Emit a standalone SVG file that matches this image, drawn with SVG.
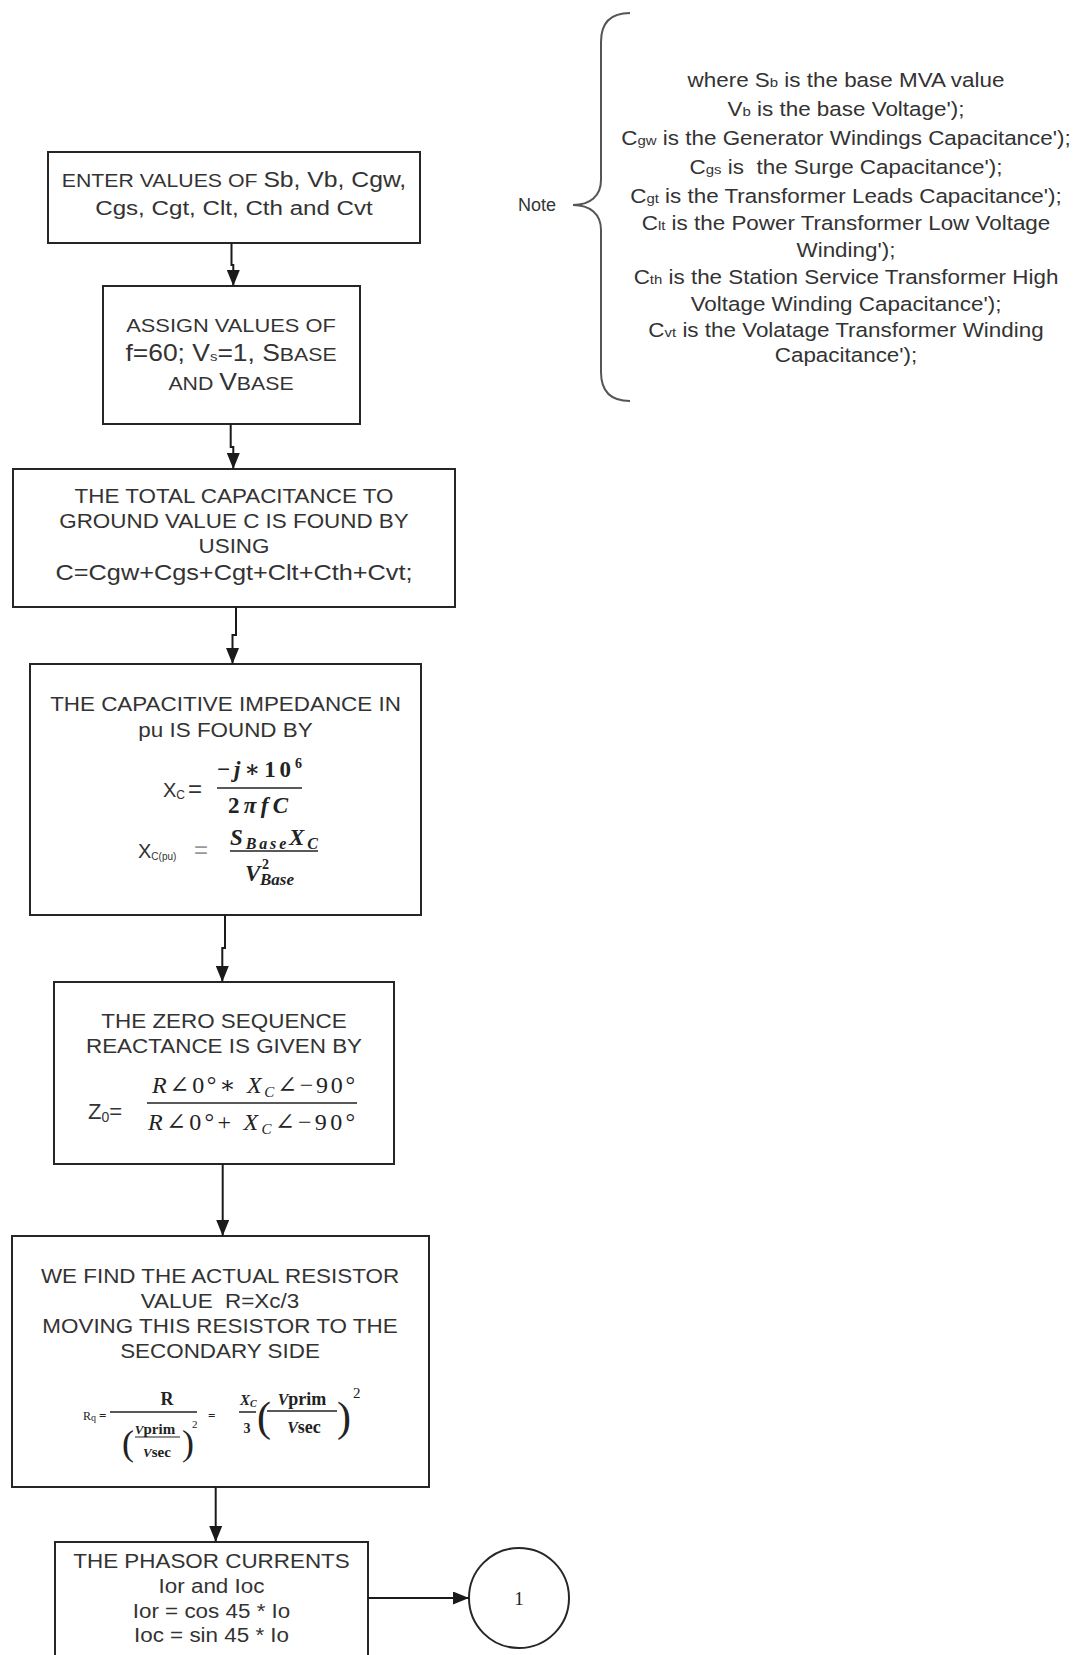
<svg xmlns="http://www.w3.org/2000/svg" width="1081" height="1655" viewBox="0 0 1081 1655">
  <defs>
    <marker id="ah" markerUnits="userSpaceOnUse" markerWidth="16" markerHeight="13" refX="16" refY="6.5" orient="auto">
      <path d="M0,0 L16,6.5 L0,13 Z" fill="#1a1a1a"/>
    </marker>
    <style>
      .box { fill: #fff; stroke: #262626; stroke-width: 2; }
      .t { font-family: "Liberation Sans", Arial, sans-serif; font-size: 19.5px; fill: #333; text-anchor: middle; white-space: pre; }
      .sc { font-size: 18.5px; }
      .big { font-size: 23px; }
      .sub { font-size: 13px; }
      .m { font-family: "Liberation Serif", "DejaVu Serif", serif; fill: #222; }
      .mb { font-family: "Liberation Serif", "DejaVu Serif", serif; fill: #222; font-weight: bold; }
      .i { font-style: italic; }
      .fl { stroke: #222; stroke-width: 1.5; }
      .conn path { fill: none; stroke: #1a1a1a; stroke-width: 2; marker-end: url(#ah); }
      .brace { fill: none; stroke: #555; stroke-width: 2; }
    </style>
  </defs>

  <rect width="1081" height="1655" fill="#fff"/>

  <!-- annotation: brace with variable definitions -->
  <g id="note">
    <path class="brace" d="M630,13 C612,13 601,22 601,42 V180 C601,196 590,205 573,205 C590,205 601,214 601,230 V372 C601,392 612,401 630,401"/>
    <text class="t" x="537" y="211" style="font-size:18px">Note</text>
    <g transform="translate(846,0) scale(1.15,1)">
      <text class="t" x="0" y="87">where S<tspan class="sub">b</tspan> is the base MVA value</text>
      <text class="t" x="0" y="116">V<tspan class="sub">b</tspan> is the base Voltage');</text>
      <text class="t" x="0" y="145">C<tspan class="sub">gw</tspan> is the Generator Windings Capacitance');</text>
      <text class="t" x="0" y="174">C<tspan class="sub">gs</tspan> is  the Surge Capacitance');</text>
      <text class="t" x="0" y="203">C<tspan class="sub">gt</tspan> is the Transformer Leads Capacitance');</text>
      <text class="t" x="0" y="230">C<tspan class="sub">lt</tspan> is the Power Transformer Low Voltage</text>
      <text class="t" x="0" y="257">Winding');</text>
      <text class="t" x="0" y="284">C<tspan class="sub">th</tspan> is the Station Service Transformer High</text>
      <text class="t" x="0" y="311">Voltage Winding Capacitance');</text>
      <text class="t" x="0" y="337">C<tspan class="sub">vt</tspan> is the Volatage Transformer Winding</text>
      <text class="t" x="0" y="362">Capacitance');</text>
    </g>
  </g>

  <!-- 1: inputs -->
  <g id="enter-values">
    <rect class="box" x="48" y="152" width="372" height="91"/>
    <g transform="translate(234,0) scale(1.15,1)">
      <text class="t" x="0" y="187"><tspan class="sc">ENTER VALUES OF </tspan><tspan style="font-size:21.5px">Sb, Vb, Cgw,</tspan></text>
      <text class="t" x="0" y="215" style="font-size:21px">Cgs, Cgt, Clt, Cth and Cvt</text>
    </g>
  </g>

  <!-- 2: constants -->
  <g id="assign-values">
    <rect class="box" x="103" y="286" width="257" height="138"/>
    <g transform="translate(231,0) scale(1.15,1)">
      <text class="t" x="0" y="332" style="font-size:19px">ASSIGN VALUES OF</text>
      <text class="t" x="0" y="361"><tspan class="big">f=60; V</tspan><tspan class="sub">s</tspan><tspan class="big">=1, S</tspan><tspan class="sc">BASE</tspan></text>
      <text class="t" x="0" y="390"><tspan class="sc">AND </tspan><tspan class="big">V</tspan><tspan class="sc">BASE</tspan></text>
    </g>
  </g>

  <!-- 3: total capacitance -->
  <g id="total-capacitance">
    <rect class="box" x="13" y="469" width="442" height="138"/>
    <g transform="translate(234,0) scale(1.15,1)">
      <text class="t" x="0" y="503">THE TOTAL CAPACITANCE TO</text>
      <text class="t" x="0" y="528">GROUND VALUE C IS FOUND BY</text>
      <text class="t" x="0" y="553">USING</text>
      <text class="t" x="0" y="580" style="font-size:22px">C=Cgw+Cgs+Cgt+Clt+Cth+Cvt;</text>
    </g>
  </g>

  <!-- 4: capacitive impedance -->
  <g id="capacitive-impedance">
    <rect class="box" x="30" y="664" width="391" height="251"/>
    <g transform="translate(225.5,0) scale(1.15,1)">
      <text class="t" x="0" y="711">THE CAPACITIVE IMPEDANCE IN</text>
      <text class="t" x="0" y="737">pu IS FOUND BY</text>
    </g>
    <text class="t" x="163" y="797" style="text-anchor:start;font-size:20px">X<tspan style="font-size:12px" dy="2">C</tspan><tspan style="font-size:24px" dx="3" dy="-2">=</tspan></text>
    <text class="mb" x="217" y="777" style="font-size:23px" textLength="85" lengthAdjust="spacing">−<tspan class="i">j</tspan>∗10<tspan style="font-size:14px" dy="-9">6</tspan></text>
    <line class="fl" x1="217" y1="788" x2="302" y2="788"/>
    <text class="mb" x="228" y="813" style="font-size:23px" textLength="60" lengthAdjust="spacing">2<tspan class="i">πfC</tspan></text>
    <text class="t" x="138" y="858" style="text-anchor:start;font-size:20px">X<tspan style="font-size:10px" dy="2">C(pu)</tspan></text>
    <text class="t" x="194" y="858" style="text-anchor:start;font-size:24px;fill:#999">=</text>
    <text class="mb i" x="230" y="845" style="font-size:23px" textLength="88" lengthAdjust="spacing">S<tspan style="font-size:16px" dy="4">Base</tspan><tspan dy="-4">X</tspan><tspan style="font-size:16px" dy="4">C</tspan></text>
    <line class="fl" x1="230" y1="851" x2="318" y2="851"/>
    <text class="mb i" x="245" y="881" style="font-size:23px">V</text>
    <text class="mb" x="262" y="869" style="font-size:14px">2</text>
    <text class="mb i" x="260" y="885" style="font-size:17px">Base</text>
  </g>

  <!-- 5: zero sequence reactance -->
  <g id="zero-sequence">
    <rect class="box" x="54" y="982" width="340" height="182"/>
    <g transform="translate(224,0) scale(1.15,1)">
      <text class="t" x="0" y="1028">THE ZERO SEQUENCE</text>
      <text class="t" x="0" y="1053">REACTANCE IS GIVEN BY</text>
    </g>
    <text class="t" x="88" y="1119" style="text-anchor:start;font-size:22px">Z<tspan style="font-size:14px" dy="3">0</tspan><tspan dy="-3">=</tspan></text>
    <text class="m" x="152" y="1093" style="font-size:24px" textLength="203" lengthAdjust="spacing"><tspan class="i">R</tspan>∠0°∗ <tspan class="i">X</tspan><tspan class="i" style="font-size:15px" dy="4">C</tspan><tspan dy="-4">∠−90°</tspan></text>
    <line class="fl" x1="147" y1="1103" x2="357" y2="1103"/>
    <text class="m" x="148" y="1130" style="font-size:24px" textLength="207" lengthAdjust="spacing"><tspan class="i">R</tspan>∠0°+ <tspan class="i">X</tspan><tspan class="i" style="font-size:15px" dy="4">C</tspan><tspan dy="-4">∠−90°</tspan></text>
  </g>

  <!-- 6: resistor value referred to secondary -->
  <g id="actual-resistor">
    <rect class="box" x="12" y="1236" width="417" height="251"/>
    <g transform="translate(220,0) scale(1.15,1)">
      <text class="t" x="0" y="1283">WE FIND THE ACTUAL RESISTOR</text>
      <text class="t" x="0" y="1308">VALUE  R=Xc/3</text>
      <text class="t" x="0" y="1333">MOVING THIS RESISTOR TO THE</text>
      <text class="t" x="0" y="1358">SECONDARY SIDE</text>
    </g>
    <text class="m" x="83" y="1420" style="font-size:12px">R<tspan style="font-size:10px" dy="1">q</tspan></text>
    <text class="mb" x="99" y="1420" style="font-size:13px">=</text>
    <text class="mb" x="167" y="1405" style="font-size:18px;text-anchor:middle">R</text>
    <line class="fl" x1="110" y1="1412" x2="197" y2="1412"/>
    <text class="m" x="122" y="1455" style="font-size:36px">(</text>
    <text class="mb" x="155" y="1434" style="font-size:15px;text-anchor:middle"><tspan class="i" style="font-size:13px">V</tspan>prim</text>
    <line x1="135" y1="1437" x2="180" y2="1437" stroke="#222" stroke-width="1.2"/>
    <text class="mb" x="157" y="1457" style="font-size:15px;text-anchor:middle"><tspan class="i" style="font-size:13px">V</tspan>sec</text>
    <text class="m" x="182" y="1455" style="font-size:36px">)</text>
    <text class="m" x="192" y="1428" style="font-size:11px">2</text>
    <text class="mb" x="208" y="1420" style="font-size:13px">=</text>
    <text class="mb i" x="240" y="1405" style="font-size:15px">X<tspan style="font-size:10px" dy="2">C</tspan></text>
    <line class="fl" x1="239" y1="1412" x2="256" y2="1412"/>
    <text class="mb" x="247" y="1433" style="font-size:14px;text-anchor:middle">3</text>
    <text class="m" x="257" y="1431" style="font-size:42px">(</text>
    <text class="mb" x="302" y="1405" style="font-size:18px;text-anchor:middle"><tspan class="i" style="font-size:16px">V</tspan>prim</text>
    <line x1="267" y1="1411" x2="337" y2="1411" stroke="#222" stroke-width="1.3"/>
    <text class="mb" x="304" y="1433" style="font-size:18px;text-anchor:middle"><tspan class="i" style="font-size:16px">V</tspan>sec</text>
    <text class="m" x="337" y="1431" style="font-size:42px">)</text>
    <text class="m" x="353" y="1398" style="font-size:15px">2</text>
  </g>

  <!-- 7: phasor currents -->
  <g id="phasor-currents">
    <rect class="box" x="55" y="1542" width="313" height="125"/>
    <g transform="translate(211.5,0) scale(1.15,1)">
      <text class="t" x="0" y="1568">THE PHASOR CURRENTS</text>
      <text class="t" x="0" y="1593">Ior and Ioc</text>
      <text class="t" x="0" y="1618">Ior = cos 45 * Io</text>
      <text class="t" x="0" y="1642">Ioc = sin 45 * Io</text>
    </g>
  </g>

  <!-- off-page connector -->
  <g id="connector-1">
    <circle cx="519" cy="1598" r="50" fill="#fff" stroke="#262626" stroke-width="2"/>
    <text class="m" x="519" y="1605" style="font-size:19px;text-anchor:middle">1</text>
  </g>

  <!-- flow connectors -->
  <g class="conn">
    <path d="M231.5,243 V265 H233.3 V286"/>
    <path d="M230.7,424 V447 H233.3 V469"/>
    <path d="M236,607 V635 H232.5 V664"/>
    <path d="M225,915 V948 H222.3 V982"/>
    <path d="M222.7,1164 V1236"/>
    <path d="M215.7,1487 V1542"/>
    <path d="M368,1598 H469"/>
  </g>
</svg>
